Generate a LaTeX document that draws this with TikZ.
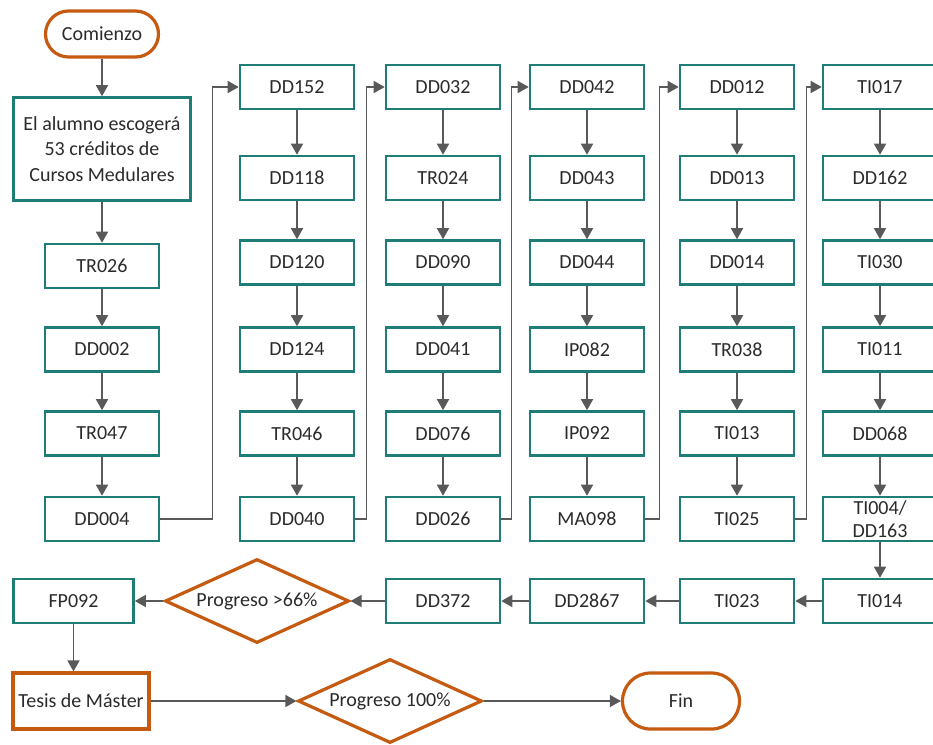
\documentclass[tikz,border=0pt]{standalone}
\usepackage{fontspec}
\setmainfont{Carlito}
\usetikzlibrary{arrows.meta,shapes.geometric}
\definecolor{tealc}{HTML}{1E7D76}
\definecolor{orangec}{HTML}{C55A11}
\definecolor{linec}{HTML}{595959}
\definecolor{txtc}{HTML}{2B2B2B}
\tikzset{
  every node/.style={font=\fontsize{20}{23}\selectfont, text=txtc},
  box/.style={draw=tealc, line width=2.6pt, fill=white, rectangle, minimum width=114pt, minimum height=44pt, inner sep=0pt, align=center},
  obox/.style={draw=orangec, line width=3.2pt, fill=white, rectangle, minimum width=136pt, minimum height=56pt, inner sep=0pt},
  term/.style={draw=orangec, line width=3.2pt, fill=white, rectangle, inner sep=0pt},
  dia/.style={draw=orangec, line width=3.2pt, fill=white, diamond, aspect=2.15, inner sep=0pt, minimum width=184pt, minimum height=84pt},
  arr/.style={draw=linec, line width=1.6pt, -{Triangle[length=11pt,width=12pt]}},
}
\begin{document}
\begin{tikzpicture}[x=1pt,y=-1pt]
\useasboundingbox (0,0) rectangle (933,744);
\clip (0,0) rectangle (933,744);
\fill[white] (0,0) rectangle (933,744);
% start
\node[term, minimum width=113pt, minimum height=46pt, rounded corners=23pt] (start) at (102,34) {Comienzo};
\node[box, minimum width=177pt, minimum height=103pt, font=\fontsize{20}{25.5}\selectfont] (big) at (102,149) {El alumno escogerá\\53 créditos de\\Cursos Medulares};
% column 1
\node[box] (TR026) at (102,266) {TR026};
\node[box] (DD002) at (102,349.5) {DD002};
\node[box] (TR047) at (102,433.5) {TR047};
\node[box] (DD004) at (102,519) {DD004};
% column 2
\node[box] (DD152) at (297,87) {DD152};
\node[box] (DD118) at (297,178) {DD118};
\node[box] (DD120) at (297,262.5) {DD120};
\node[box] (DD124) at (297,349.5) {DD124};
\node[box] (TR046) at (297,433.5) {TR046};
\node[box] (DD040) at (297,519) {DD040};
% column 3
\node[box] (DD032) at (443,87) {DD032};
\node[box] (TR024) at (443,178) {TR024};
\node[box] (DD090) at (443,262.5) {DD090};
\node[box] (DD041) at (443,349.5) {DD041};
\node[box] (DD076) at (443,433.5) {DD076};
\node[box] (DD026) at (443,519) {DD026};
% column 4
\node[box] (DD042) at (587,87) {DD042};
\node[box] (DD043) at (587,178) {DD043};
\node[box] (DD044) at (587,262.5) {DD044};
\node[box] (IP082) at (587,349.5) {IP082};
\node[box] (IP092) at (587,433.5) {IP092};
\node[box] (MA098) at (587,519) {MA098};
% column 5
\node[box] (DD012) at (737,87) {DD012};
\node[box] (DD013) at (737,178) {DD013};
\node[box] (DD014) at (737,262.5) {DD014};
\node[box] (TR038) at (737,349.5) {TR038};
\node[box] (TI013) at (737,433.5) {TI013};
\node[box] (TI025) at (737,519) {TI025};
% column 6
\node[box] (TI017) at (880,87) {TI017};
\node[box] (DD162) at (880,178) {DD162};
\node[box] (TI030) at (880,262.5) {TI030};
\node[box] (TI011) at (880,349.5) {TI011};
\node[box] (DD068) at (880,433.5) {DD068};
\node[box] (TI004) at (880,519) {TI004/\\DD163};
% row of return
\node[box] (TI014) at (880,601) {TI014};
\node[box] (TI023) at (737,601) {TI023};
\node[box] (DD2867) at (587,601) {DD2867};
\node[box] (DD372) at (443,601) {DD372};
\node[dia] (p66) at (257,601) {Progreso >66\%};
\node[box, minimum width=120pt] (FP092) at (73.5,601) {FP092};
% last row
\node[obox] (tesis) at (81,701) {Tesis de Máster};
\node[dia] (p100) at (390,701) {Progreso 100\%};
\node[term, minimum width=117pt, minimum height=56pt, rounded corners=28pt] (fin) at (681,701) {Fin};
% connectors
\draw[arr] (start.south) -- (start.south |- big.north);
\draw[arr] (TR026.north |- big.south) -- (TR026.north);
\draw[arr] (TR026) -- (DD002);
\draw[arr] (DD002) -- (TR047);
\draw[arr] (TR047) -- (DD004);
\draw[arr] (DD004.east) -- ++(52,0) |- (DD152.west);
\draw[arr] (DD152) -- (DD118);
\draw[arr] (DD118) -- (DD120);
\draw[arr] (DD120) -- (DD124);
\draw[arr] (DD124) -- (TR046);
\draw[arr] (TR046) -- (DD040);
\draw[arr] (DD040.east) -- ++(11,0) |- (DD032.west);
\draw[arr] (DD032) -- (TR024);
\draw[arr] (TR024) -- (DD090);
\draw[arr] (DD090) -- (DD041);
\draw[arr] (DD041) -- (DD076);
\draw[arr] (DD076) -- (DD026);
\draw[arr] (DD026.east) -- ++(10,0) |- (DD042.west);
\draw[arr] (DD042) -- (DD043);
\draw[arr] (DD043) -- (DD044);
\draw[arr] (DD044) -- (IP082);
\draw[arr] (IP082) -- (IP092);
\draw[arr] (IP092) -- (MA098);
\draw[arr] (MA098.east) -- ++(14,0) |- (DD012.west);
\draw[arr] (DD012) -- (DD013);
\draw[arr] (DD013) -- (DD014);
\draw[arr] (DD014) -- (TR038);
\draw[arr] (TR038) -- (TI013);
\draw[arr] (TI013) -- (TI025);
\draw[arr] (TI025.east) -- ++(11,0) |- (TI017.west);
\draw[arr] (TI017) -- (DD162);
\draw[arr] (DD162) -- (TI030);
\draw[arr] (TI030) -- (TI011);
\draw[arr] (TI011) -- (DD068);
\draw[arr] (DD068) -- (TI004);
\draw[arr] (TI004) -- (TI014);
\draw[arr] (TI014) -- (TI023);
\draw[arr] (TI023) -- (DD2867);
\draw[arr] (DD2867) -- (DD372);
\draw[arr] (DD372) -- (p66.east);
\draw[arr] (p66.west) -- (FP092.east);
\draw[arr] (FP092.south) -- (FP092.south |- tesis.north);
\draw[arr] (tesis.east) -- (p100.west);
\draw[arr] (p100.east) -- (fin.west);
\end{tikzpicture}
\end{document}
